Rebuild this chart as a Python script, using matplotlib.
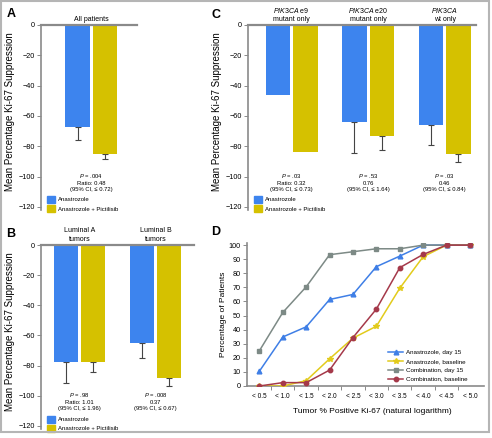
import matplotlib
matplotlib.use("Agg")
from matplotlib import pyplot as plt
from matplotlib.patches import Patch, Rectangle
from matplotlib.transforms import blended_transform_factory

plt.rcParams['font.family'] = ['Liberation Sans', 'DejaVu Sans']
plt.rcParams['mathtext.fontset'] = 'custom'
plt.rcParams['mathtext.it'] = 'Liberation Sans:italic'
plt.rcParams['mathtext.rm'] = 'Liberation Sans'

# ---- data ----
a_groups = ["All patients"]
a_ana = [-67]
a_combo = [-85]
a_ana_err = [9]
a_combo_err = [3.3]
a_notes = ["$\\it{P}$ = .004\nRatio: 0.48\n(95% CI, \u2264 0.72)"]

b_groups = ["Luminal A\ntumors", "Luminal B\ntumors"]
b_ana = [-77.3, -65]
b_combo = [-77.3, -88.2]
b_ana_err = [14.2, 9.9]
b_combo_err = [6.9, 5.1]
b_notes = ["$\\it{P}$ = .98\nRatio: 1.01\n(95% CI, \u2264 1.96)",
           "$\\it{P}$ = .008\n0.37\n(95% CI, \u2264 0.67)"]

c_groups = ["$\\it{PIK3CA}$ e9\nmutant only", "$\\it{PIK3CA}$ e20\nmutant only",
            "$\\it{PIK3CA}$\nwt only"]
c_ana = [-46.3, -64.1, -66.1]
c_combo = [-83.7, -73.1, -85.2]
c_ana_err = [0, 20, 13.2]
c_combo_err = [0, 9.1, 5.1]
c_notes = ["$\\it{P}$ = .03\nRatio: 0.32\n(95% CI, \u2264 0.73)",
           "$\\it{P}$ = .53\n0.76\n(95% CI, \u2264 1.64)",
           "$\\it{P}$ = .03\n0.46\n(95% CI, \u2264 0.84)"]

d_cats = ["< 0.5", "< 1.0", "< 1.5", "< 2.0", "< 2.5", "< 3.0", "< 3.5", "< 4.0", "< 4.5", "< 5.0"]
ana_day15 = [10.5, 34.8, 42, 61.4, 65, 84.7, 92.2, 100, 100, 100]
ana_base = [0, 0, 3.8, 19.3, 34, 42.4, 69.4, 91.8, 100, 100]
combo_day15 = [25, 52.2, 70.4, 93.2, 95.3, 97.4, 97.4, 100, 100, 100]
combo_base = [0, 2.4, 2.4, 11.3, 34.4, 54.6, 84, 93.4, 100, 100]

BLUE = '#3D84EE'
YELLOW = '#D5C100'
GRAY = '#8a8a8a'

W, H = 492, 438
fig = plt.figure(figsize=(W / 100, H / 100), dpi=100)


def px_axes(left, top, right, bottom):
    return fig.add_axes([left / W, 1 - bottom / H, (right - left) / W, (bottom - top) / H])


def bar_panel(ax, groups, ana, combo, ana_err, combo_err, notes, xlim, leg_x, leg_y,
              title_y, ylabel_x):
    w = 0.32
    pos = list(range(len(groups)))
    x1 = [p - 0.18 for p in pos]
    x2 = [p + 0.18 for p in pos]
    ax.bar(x1, ana, width=w, color=BLUE, zorder=2)
    ax.bar(x2, combo, width=w, color=YELLOW, zorder=2)
    for x, v, e in zip(x1 + x2, ana + combo, ana_err + combo_err):
        if e > 0:
            ax.errorbar([x], [v], yerr=[[e], [0]], fmt='none', ecolor='#444444',
                        elinewidth=0.8, capsize=2.5, capthick=0.8, zorder=1)
    ax.set_xlim(*xlim)
    ax.set_ylim(-122, 0)
    ax.set_yticks([0, -20, -40, -60, -80, -100, -120])
    ax.set_yticklabels(['0', '\u221220', '\u221240', '\u221260', '\u221280', '\u2212100', '\u2212120'])
    ax.set_xticks([])
    for s in ['bottom', 'right']:
        ax.spines[s].set_visible(False)
    ax.spines['top'].set_color(GRAY)
    ax.spines['top'].set_linewidth(1.6)
    ax.spines['left'].set_color(GRAY)
    ax.spines['left'].set_linewidth(1.2)
    ax.tick_params(axis='y', labelsize=5.2, length=3, width=0.7, color=GRAY, pad=1.5)
    ax.set_ylabel("Mean Percentage Ki-67 Suppression", fontsize=7)
    ax.yaxis.set_label_coords(ylabel_x, 0.53)
    tr = blended_transform_factory(ax.transData, ax.transAxes)
    for p, g, n in zip(pos, groups, notes):
        ax.text(p, title_y, g, transform=tr, ha='center', va='center', fontsize=5,
                linespacing=1.25)
        ax.text(p, -103.5, n, ha='center', va='center', fontsize=4.2, linespacing=1.35)
    handles = [Patch(color=BLUE, label='Anastrozole'),
               Patch(color=YELLOW, label='Anastrozole + Pictilisib')]
    ax.legend(handles=handles, loc='lower left', bbox_to_anchor=(leg_x, leg_y),
              frameon=False, fontsize=4.3, handlelength=1.4, handleheight=1.4,
              borderpad=0, borderaxespad=0, handletextpad=0.5, labelspacing=0.4)


axA = px_axes(41, 25, 137, 210)
bar_panel(axA, a_groups, a_ana, a_combo, a_ana_err, a_combo_err, a_notes,
          (-0.66, 0.60), 0.06, -0.012, 1.032, -0.27)

axB = px_axes(41, 245, 194, 429)
bar_panel(axB, b_groups, b_ana, b_combo, b_ana_err, b_combo_err, b_notes,
          (-0.507, 1.506), 0.04, -0.016, 1.055, -0.17)

axC = px_axes(248, 25, 476, 210)
bar_panel(axC, c_groups, c_ana, c_combo, c_ana_err, c_combo_err, c_notes,
          (-0.57, 2.41), 0.026, -0.012, 1.055, -0.115)

# ---- panel D ----
axD = px_axes(247, 243, 484, 386)
xs = list(range(len(d_cats)))
axD.plot(xs, ana_day15, color='#3F7FE6', lw=1.1, marker='^', ms=3.4,
         label='Anastrozole, day 15', zorder=3)
axD.plot(xs, ana_base, color='#E2CB1C', lw=1.1, marker='*', ms=3.8,
         label='Anastrozole, baseline', zorder=3)
axD.plot(xs, combo_day15, color='#7D8A86', lw=1.1, marker='s', ms=3.0,
         label='Combination, day 15', zorder=3)
axD.plot(xs, combo_base, color='#A5394A', lw=1.1, marker='o', ms=3.2,
         label='Combination, baseline', zorder=4)
axD.set_xlim(-0.53, 9.6)
axD.set_ylim(0, 101.5)
axD.set_yticks(range(0, 101, 10))
axD.set_xticks(xs)
axD.set_xticklabels(d_cats)
axD.set_xticks([x + 0.5 for x in xs[:-1]], minor=True)
for s in ['top', 'right']:
    axD.spines[s].set_visible(False)
for s in ['left', 'bottom']:
    axD.spines[s].set_color(GRAY)
    axD.spines[s].set_linewidth(1.2)
    axD.spines[s].set_zorder(1)
axD.tick_params(axis='y', labelsize=5.2, length=3, width=0.7, color=GRAY, pad=1.5)
axD.tick_params(axis='x', which='major', labelsize=4.7, length=0, pad=5)
axD.tick_params(axis='x', which='minor', length=3, width=0.7, color=GRAY)
axD.set_ylabel("Percentage of Patients", fontsize=6)
axD.yaxis.set_label_coords(-0.085, 0.5)
axD.set_xlabel("Tumor % Positive Ki-67 (natural logarithm)", fontsize=6)
axD.xaxis.set_label_coords(0.53, -0.155)
axD.legend(loc='lower left', bbox_to_anchor=(0.595, 0.03), frameon=False, fontsize=4.5,
           handlelength=2.4, borderpad=0, borderaxespad=0, handletextpad=0.4,
           labelspacing=0.55)

# ---- panel letters and frame ----
for letter, x, y in [('A', 11.5, 14), ('C', 216, 14.5), ('B', 10.5, 234), ('D', 216, 232)]:
    fig.text(x / W, 1 - y / H, letter, fontsize=9, fontweight='bold', ha='center', va='center')

fig.patches.append(Rectangle((1 / W, 1 - 432 / H), 488 / W, 431 / H, transform=fig.transFigure,
                             fill=False, edgecolor='#b5b5b5', lw=1.5))

fig.savefig('out.png', dpi=100)
